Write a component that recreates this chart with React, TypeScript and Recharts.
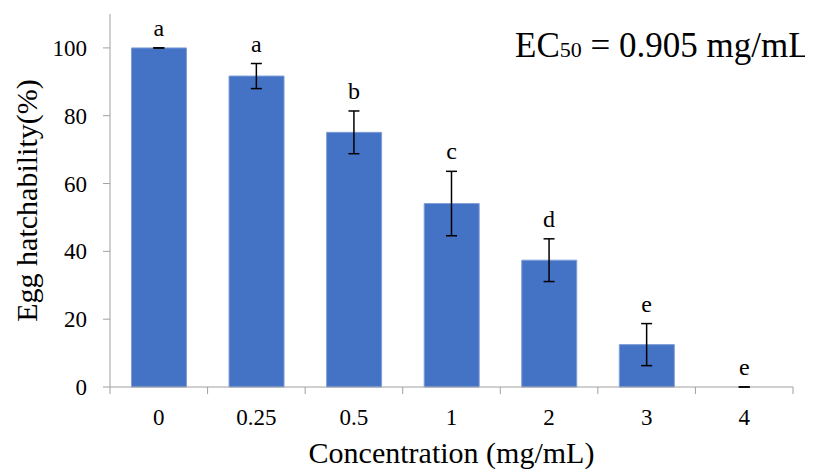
import React from 'react';
import { ComposedChart, Bar, Line, XAxis, YAxis, ErrorBar, LabelList, Customized, ReferenceLine } from 'recharts';

const categories = ['0', '0.25', '0.5', '1', '2', '3', '4'];
const means = [100, 91.7, 75.1, 54.1, 37.4, 12.5, 0];
const errors = [0, 3.7, 6.3, 9.5, 6.3, 6.2, 0];
const letters = ['a', 'a', 'b', 'c', 'd', 'e', 'e'];
const yTicks = [0, 20, 40, 60, 80, 100];

const data = categories.map((c, i) => ({
  conc: c,
  mean: means[i],
  err: [errors[i], errors[i]],
  top: means[i] + errors[i],
  letter: letters[i],
}));

const FONT = '"Liberation Serif", "Times New Roman", serif';
const AXIS_COLOR = '#A0A0A0';
const W = 805;
const H = 462;
const MARGIN = { top: 6, right: 20, left: 0, bottom: 0 };
const Y_W = 102;
const X_H = 83;

const XTick = (props: any) => {
  const { x, y, payload, index } = props;
  const plotW = W - MARGIN.left - MARGIN.right - Y_W;
  const half = payload && payload.offset ? payload.offset : plotW / categories.length / 2;
  const isLast = index === categories.length - 1;
  return (
    <g>
      <line x1={x - half} y1={y} x2={x - half} y2={y + 7} stroke={AXIS_COLOR} strokeWidth={1} />
      {isLast && <line x1={x + half} y1={y} x2={x + half} y2={y + 7} stroke={AXIS_COLOR} strokeWidth={1} />}
      <text x={x} y={y + 38} textAnchor="middle" fontSize={23} fontFamily={FONT} fill="#000">
        {payload.value}
      </text>
    </g>
  );
};

const YTick = (props: any) => {
  const { x, y, payload } = props;
  return (
    <text x={x} y={y + 8} textAnchor="end" fontSize={23} fontFamily={FONT} fill="#000">
      {payload.value}
    </text>
  );
};

const LetterLabel = (props: any) => {
  const { x, y, value } = props;
  return (
    <text x={x} y={y - 12} textAnchor="middle" fontSize={24} fontFamily={FONT} fill="#000">
      {value}
    </text>
  );
};

const EcText = () => (
  <text x={507} y={49} fontFamily={FONT} fontSize={35} fill="#000">
    EC<tspan fontSize={22}>50</tspan>
    <tspan fontSize={35}> = 0.905 mg/mL</tspan>
  </text>
);

export default function App() {
  return (
    <div style={{ fontFamily: FONT, width: W, height: H }}>
      <ComposedChart width={W} height={H} data={data} margin={MARGIN} barCategoryGap="22%">
        <XAxis
          dataKey="conc"
          height={X_H}
          axisLine={false}
          tickLine={false}
          tickSize={0}
          tickMargin={0}
          tick={<XTick />}
          interval={0}
          label={(p: any) => {
            const vb = p.viewBox || {};
            return (
              <text x={vb.x + vb.width / 2} y={455} textAnchor="middle" fontSize={30} fontFamily={FONT} fill="#000">
                Concentration (mg/mL)
              </text>
            );
          }}
        />
        <YAxis
          width={Y_W}
          domain={[0, 110]}
          ticks={yTicks}
          interval={0}
          axisLine={{ stroke: AXIS_COLOR }}
          tickLine={{ stroke: AXIS_COLOR }}
          tickSize={7}
          tickMargin={16}
          tick={<YTick />}
          label={(p: any) => {
            const vb = p.viewBox || {};
            const cy = vb.y + vb.height / 2;
            return (
              <text
                x={29}
                y={cy}
                transform={`rotate(-90, 29, ${cy})`}
                textAnchor="middle"
                fontSize={30}
                fontFamily={FONT}
                fill="#000"
              >
                Egg hatchability(%)
              </text>
            );
          }}
        />
        <ReferenceLine y={0} stroke={AXIS_COLOR} strokeWidth={1} />
        <Bar dataKey="mean" fill="#4472C4" stroke="#7F9FD8" strokeWidth={1} isAnimationActive={false} />
        <Line dataKey="mean" stroke="none" dot={false} activeDot={false} isAnimationActive={false} legendType="none">
          <ErrorBar dataKey="err" width={5.5} stroke="#000" strokeWidth={1.5} />
        </Line>
        <Line dataKey="top" stroke="none" dot={false} activeDot={false} isAnimationActive={false} legendType="none">
          <LabelList dataKey="letter" content={<LetterLabel />} />
        </Line>
        <Customized component={EcText} />
      </ComposedChart>
    </div>
  );
}
